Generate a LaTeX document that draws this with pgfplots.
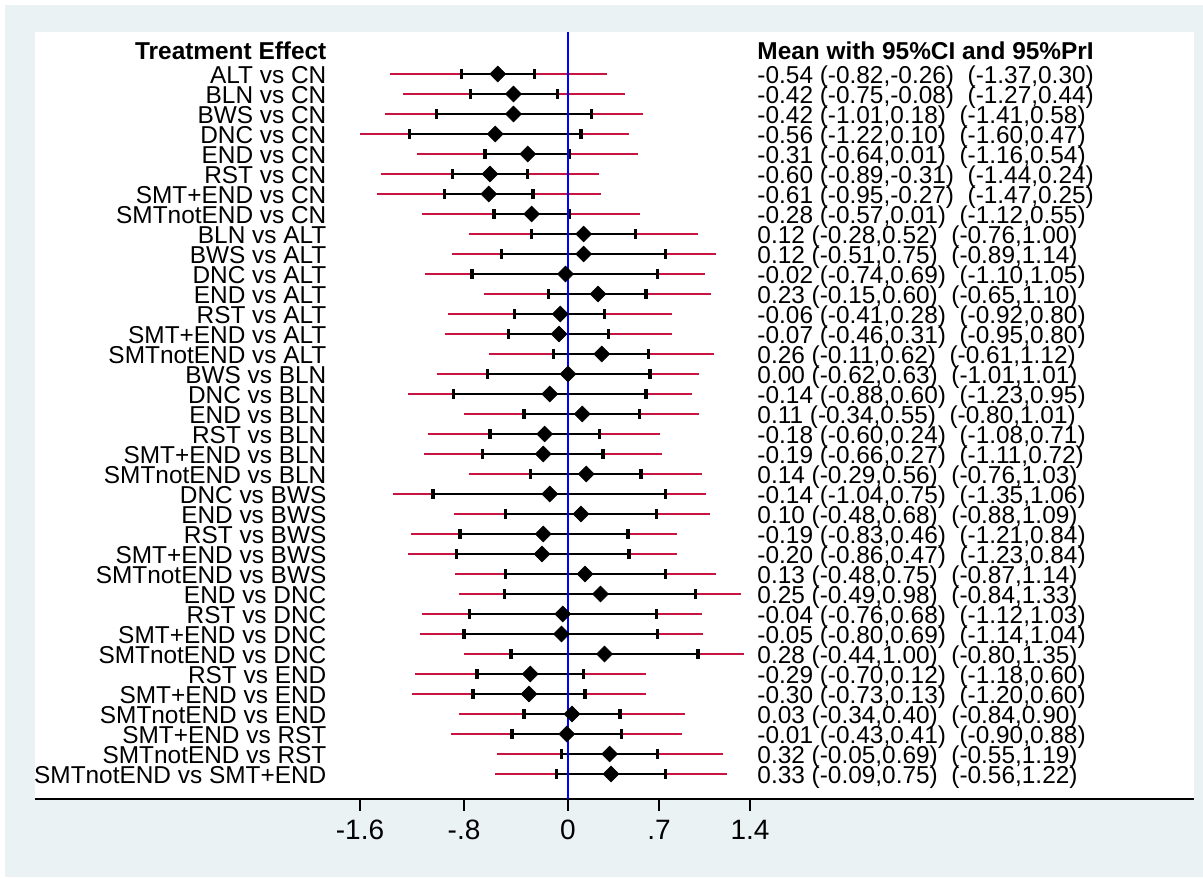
\documentclass[border=0pt]{standalone}
\usepackage{pgfplots}
\pgfplotsset{compat=1.18}
\usepackage{pgfplotstable}
\usepackage{fontspec}
\setmainfont{Liberation Sans}
\definecolor{bgc}{RGB}{234,242,243}
\definecolor{prc}{RGB}{200,20,64}

\pgfplotstableread{
row mean cilo cihi prlo prhi
1 -0.54 -0.82 -0.26 -1.37 0.30
2 -0.42 -0.75 -0.08 -1.27 0.44
3 -0.42 -1.01 0.18 -1.41 0.58
4 -0.56 -1.22 0.10 -1.60 0.47
5 -0.31 -0.64 0.01 -1.16 0.54
6 -0.60 -0.89 -0.31 -1.44 0.24
7 -0.61 -0.95 -0.27 -1.47 0.25
8 -0.28 -0.57 0.01 -1.12 0.55
9 0.12 -0.28 0.52 -0.76 1.00
10 0.12 -0.51 0.75 -0.89 1.14
11 -0.02 -0.74 0.69 -1.10 1.05
12 0.23 -0.15 0.60 -0.65 1.10
13 -0.06 -0.41 0.28 -0.92 0.80
14 -0.07 -0.46 0.31 -0.95 0.80
15 0.26 -0.11 0.62 -0.61 1.12
16 0.00 -0.62 0.63 -1.01 1.01
17 -0.14 -0.88 0.60 -1.23 0.95
18 0.11 -0.34 0.55 -0.80 1.01
19 -0.18 -0.60 0.24 -1.08 0.71
20 -0.19 -0.66 0.27 -1.11 0.72
21 0.14 -0.29 0.56 -0.76 1.03
22 -0.14 -1.04 0.75 -1.35 1.06
23 0.10 -0.48 0.68 -0.88 1.09
24 -0.19 -0.83 0.46 -1.21 0.84
25 -0.20 -0.86 0.47 -1.23 0.84
26 0.13 -0.48 0.75 -0.87 1.14
27 0.25 -0.49 0.98 -0.84 1.33
28 -0.04 -0.76 0.68 -1.12 1.03
29 -0.05 -0.80 0.69 -1.14 1.04
30 0.28 -0.44 1.00 -0.80 1.35
31 -0.29 -0.70 0.12 -1.18 0.60
32 -0.30 -0.73 0.13 -1.20 0.60
33 0.03 -0.34 0.40 -0.84 0.90
34 -0.01 -0.43 0.41 -0.90 0.88
35 0.32 -0.05 0.69 -0.55 1.19
36 0.33 -0.09 0.75 -0.56 1.22
}\fdata

\newcommand{\txtfont}{\fontsize{12.2}{14}\selectfont}
\newcommand{\rowtxt}[3]{%
  \node[anchor=base east, inner sep=0pt, font=\txtfont] at (axis cs:-1.856,-#1-0.465) {#2};%
  \node[anchor=base west, inner sep=0pt, font=\txtfont] at (axis cs:1.454,-#1-0.465) {#3};%
}

\begin{document}
\begin{tikzpicture}
\fill[white] (-17.5pt,-39pt) rectangle (584pt,399.5pt);
\fill[bgc] (-15pt,-39pt) rectangle (584pt,397pt);
\begin{axis}[
  at={(0,0)}, anchor=south west,
  scale only axis, width=579.5pt, height=383.5pt,
  xmin=-4.100, xmax=4.815, ymin=-37.25, ymax=1.1,
  axis background/.style={fill=white},
  axis x line*=bottom, axis y line=none,
  x axis line style={line width=0.9pt, black},
  xtick={-1.6,-0.8,0,0.7,1.4},
  xticklabels={{-1.6},{-.8},{0},{.7},{1.4}},
  tick align=outside, major tick length=6pt,
  xtick style={line width=1pt, black},
  xticklabel style={font=\fontsize{14}{16}\selectfont, anchor=center, yshift=-9.5pt},
  ytick=\empty,
  clip=false,
]
% prediction intervals
\addplot[only marks, mark=none, forget plot,
  error bars/.cd, x dir=both, x explicit, error mark=none,
  error bar style={line width=1.45pt, draw=prc}]
  table[x=mean, y expr=-\thisrow{row},
        x error plus expr=\thisrow{prhi}-\thisrow{mean},
        x error minus expr=\thisrow{mean}-\thisrow{prlo}] {\fdata};
% confidence intervals
\addplot[only marks, mark=none, forget plot,
  error bars/.cd, x dir=both, x explicit, error mark=|,
  error bar style={line width=1.4pt, draw=black},
  error mark options={line width=1.7pt, mark size=2.4pt, draw=black}]
  table[x=mean, y expr=-\thisrow{row},
        x error plus expr=\thisrow{cihi}-\thisrow{mean},
        x error minus expr=\thisrow{mean}-\thisrow{cilo}] {\fdata};
% reference line
\addplot[blue, line width=1.1pt, forget plot] coordinates {(0,-37.25) (0,1.1)};
% means
\addplot[only marks, mark=square*, mark size=2.8pt, forget plot,
  mark options={rotate=45, fill=black, draw=black, line width=0.3pt}]
  table[x=mean, y expr=-\thisrow{row}] {\fdata};

\node[anchor=base east, inner sep=0pt, font=\txtfont\bfseries] at (axis cs:-1.856,-0.265) {Treatment Effect};
\node[anchor=base west, inner sep=0pt, font=\txtfont\bfseries] at (axis cs:1.454,-0.265) {Mean with 95\%CI and 95\%PrI};

\rowtxt{1}{ALT vs CN}{-0.54 (-0.82,-0.26)\ \ (-1.37,0.30)}
\rowtxt{2}{BLN vs CN}{-0.42 (-0.75,-0.08)\ \ (-1.27,0.44)}
\rowtxt{3}{BWS vs CN}{-0.42 (-1.01,0.18)\ \ (-1.41,0.58)}
\rowtxt{4}{DNC vs CN}{-0.56 (-1.22,0.10)\ \ (-1.60,0.47)}
\rowtxt{5}{END vs CN}{-0.31 (-0.64,0.01)\ \ (-1.16,0.54)}
\rowtxt{6}{RST vs CN}{-0.60 (-0.89,-0.31)\ \ (-1.44,0.24)}
\rowtxt{7}{SMT+END vs CN}{-0.61 (-0.95,-0.27)\ \ (-1.47,0.25)}
\rowtxt{8}{SMTnotEND vs CN}{-0.28 (-0.57,0.01)\ \ (-1.12,0.55)}
\rowtxt{9}{BLN vs ALT}{0.12 (-0.28,0.52)\ \ (-0.76,1.00)}
\rowtxt{10}{BWS vs ALT}{0.12 (-0.51,0.75)\ \ (-0.89,1.14)}
\rowtxt{11}{DNC vs ALT}{-0.02 (-0.74,0.69)\ \ (-1.10,1.05)}
\rowtxt{12}{END vs ALT}{0.23 (-0.15,0.60)\ \ (-0.65,1.10)}
\rowtxt{13}{RST vs ALT}{-0.06 (-0.41,0.28)\ \ (-0.92,0.80)}
\rowtxt{14}{SMT+END vs ALT}{-0.07 (-0.46,0.31)\ \ (-0.95,0.80)}
\rowtxt{15}{SMTnotEND vs ALT}{0.26 (-0.11,0.62)\ \ (-0.61,1.12)}
\rowtxt{16}{BWS vs BLN}{0.00 (-0.62,0.63)\ \ (-1.01,1.01)}
\rowtxt{17}{DNC vs BLN}{-0.14 (-0.88,0.60)\ \ (-1.23,0.95)}
\rowtxt{18}{END vs BLN}{0.11 (-0.34,0.55)\ \ (-0.80,1.01)}
\rowtxt{19}{RST vs BLN}{-0.18 (-0.60,0.24)\ \ (-1.08,0.71)}
\rowtxt{20}{SMT+END vs BLN}{-0.19 (-0.66,0.27)\ \ (-1.11,0.72)}
\rowtxt{21}{SMTnotEND vs BLN}{0.14 (-0.29,0.56)\ \ (-0.76,1.03)}
\rowtxt{22}{DNC vs BWS}{-0.14 (-1.04,0.75)\ \ (-1.35,1.06)}
\rowtxt{23}{END vs BWS}{0.10 (-0.48,0.68)\ \ (-0.88,1.09)}
\rowtxt{24}{RST vs BWS}{-0.19 (-0.83,0.46)\ \ (-1.21,0.84)}
\rowtxt{25}{SMT+END vs BWS}{-0.20 (-0.86,0.47)\ \ (-1.23,0.84)}
\rowtxt{26}{SMTnotEND vs BWS}{0.13 (-0.48,0.75)\ \ (-0.87,1.14)}
\rowtxt{27}{END vs DNC}{0.25 (-0.49,0.98)\ \ (-0.84,1.33)}
\rowtxt{28}{RST vs DNC}{-0.04 (-0.76,0.68)\ \ (-1.12,1.03)}
\rowtxt{29}{SMT+END vs DNC}{-0.05 (-0.80,0.69)\ \ (-1.14,1.04)}
\rowtxt{30}{SMTnotEND vs DNC}{0.28 (-0.44,1.00)\ \ (-0.80,1.35)}
\rowtxt{31}{RST vs END}{-0.29 (-0.70,0.12)\ \ (-1.18,0.60)}
\rowtxt{32}{SMT+END vs END}{-0.30 (-0.73,0.13)\ \ (-1.20,0.60)}
\rowtxt{33}{SMTnotEND vs END}{0.03 (-0.34,0.40)\ \ (-0.84,0.90)}
\rowtxt{34}{SMT+END vs RST}{-0.01 (-0.43,0.41)\ \ (-0.90,0.88)}
\rowtxt{35}{SMTnotEND vs RST}{0.32 (-0.05,0.69)\ \ (-0.55,1.19)}
\rowtxt{36}{SMTnotEND vs SMT+END}{0.33 (-0.09,0.75)\ \ (-0.56,1.22)}
\end{axis}
\end{tikzpicture}
\end{document}
